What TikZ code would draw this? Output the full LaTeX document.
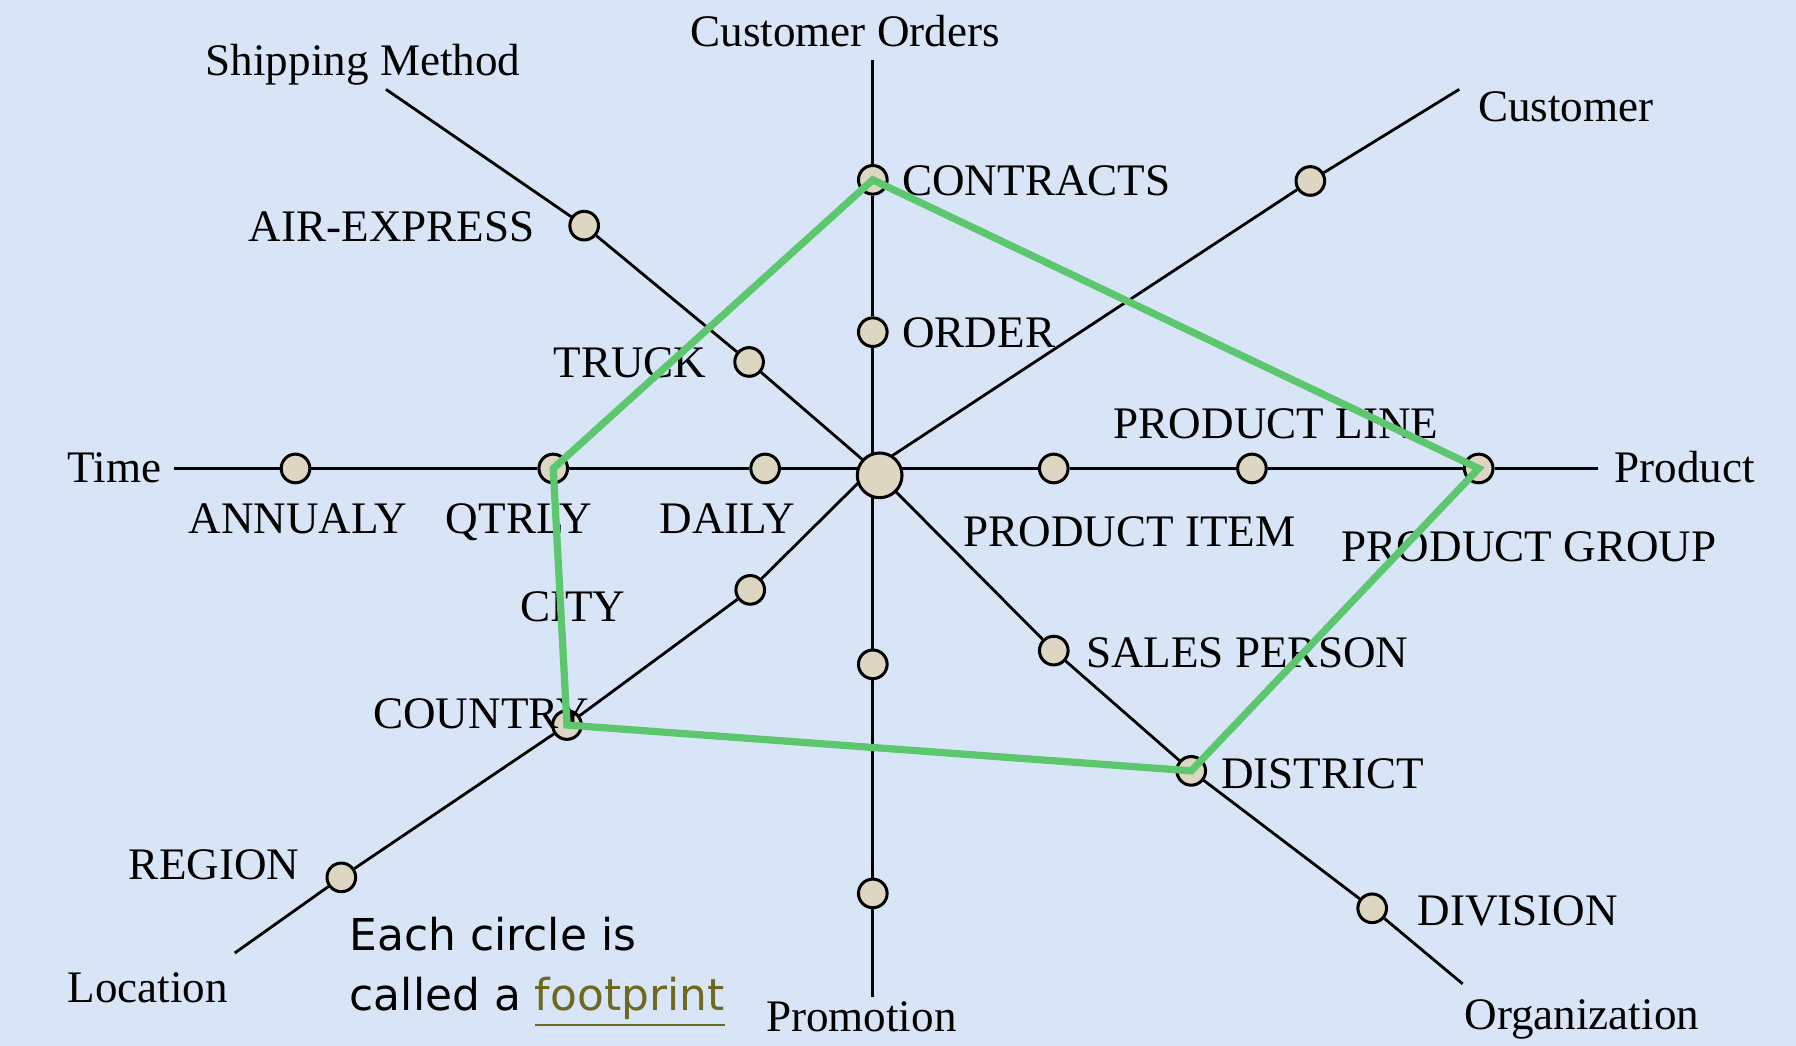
\documentclass[tikz,border=0pt]{standalone}
\usepackage{fontspec}
\setmainfont{Liberation Serif}
\newfontfamily\notefont{DejaVu Sans}
\usepackage[dvipsnames]{xcolor}
\usepackage{tikz}
\definecolor{bgblue}{RGB}{216,229,247}
\definecolor{dotfill}{RGB}{221,214,194}
\definecolor{slicegreen}{RGB}{92,199,110}
\definecolor{fpolive}{RGB}{110,104,32}
\tikzset{
	fpdot/.style={circle, draw=black, fill=dotfill, line width=0.75pt, minimum size=0.25cm, inner sep=0pt},
	hubdot/.style={fpdot, minimum size=0.39cm},
	spoke/.style={black, line width=0.7pt},
	lbl/.style={inner sep=0pt, anchor=base, font=\fontsize{11.2}{13}\selectfont},
	note/.style={inner sep=0pt, anchor=base west, font=\notefont\fontsize{10.9}{14.8}\selectfont},
}

\begin{document}
\begin{tikzpicture}[x=0.01cm, y=-0.01cm]
				% background
				\fill[bgblue] (0,0) rectangle (1568,913.2);
				\useasboundingbox (0,0) rectangle (1568,913.2);
				% footprints
				\node[fpdot] (annualy) at (258,409) {};
				\node[fpdot] (qtrly) at (483,409) {};
				\node[fpdot] (daily) at (668,409) {};
				\node[fpdot] (pitem) at (920,409) {};
				\node[fpdot] (pline) at (1093,409) {};
				\node[fpdot] (pgroup) at (1291,409) {};
				\node[fpdot] (contracts) at (762,157) {};
				\node[fpdot] (order) at (762,290) {};
				\node[fpdot] (promoA) at (762,580) {};
				\node[fpdot] (promoB) at (762,780) {};
				\node[fpdot] (airexp) at (510,197) {};
				\node[fpdot] (truck) at (654,316) {};
				\node[fpdot] (custA) at (1144,158) {};
				\node[fpdot] (city) at (655,515) {};
				\node[fpdot] (country) at (495,633) {};
				\node[fpdot] (region) at (298,766) {};
				\node[fpdot] (salesp) at (920,568) {};
				\node[fpdot] (district) at (1040,673) {};
				\node[fpdot] (division) at (1198,793) {};
				% free ends
				\coordinate (xing) at (762,409);
				\coordinate (timeend) at (152,409);
				\coordinate (prodend) at (1395,409);
				\coordinate (ordersend) at (762,52);
				\coordinate (promoend) at (762,870);
				\coordinate (shipend) at (337,78);
				\coordinate (custend) at (1274,78);
				\coordinate (locend) at (205,832);
				\coordinate (orgend) at (1277,859);
				% dimension axes
				\draw[spoke] (timeend) -- (annualy) -- (qtrly) -- (daily) -- (xing) -- (pitem) -- (pline) -- (pgroup) -- (prodend);
				\draw[spoke] (ordersend) -- (contracts) -- (order) -- (xing) -- (promoA) -- (promoB) -- (promoend);
				\draw[spoke] (shipend) -- (airexp) -- (truck) -- (xing);
				\draw[spoke] (custend) -- (custA) -- (xing);
				\draw[spoke] (locend) -- (region) -- (country) -- (city) -- (xing);
				\draw[spoke] (orgend) -- (division) -- (district) -- (salesp) -- (xing);
				\node[hubdot] (hub) at (768,415) {};
				% dimension names
				\node[lbl] (lorders) at (738,40.5) {Customer Orders};
				\node[lbl] (lship) at (317,66) {Shipping Method};
				\node[lbl] (lcust) at (1367,106) {Customer};
				\node[lbl] (ltime) at (100,421) {Time};
				\node[lbl] (lprod) at (1471,421) {Product};
				\node[lbl] (lloc) at (129,875) {Location};
				\node[lbl] (lpromo) at (752,900.5) {Promotion};
				\node[lbl] (lorg) at (1381,899) {Organization};
				% level labels
				\node[lbl, anchor=base west] (lcontracts) at (787,171) {CONTRACTS};
				\node[lbl, anchor=base west] (lorder) at (787,303.5) {ORDER};
				\node[lbl] (lair) at (342,211) {AIR-EXPRESS};
				\node[lbl] (ltruck) at (550,330) {TRUCK};
				\node[lbl] (lpline) at (1114,383) {PRODUCT LINE};
				\node[lbl] (lannualy) at (260,466) {ANNUALY};
				\node[lbl] (lqtrly) at (453,466) {QTRLY};
				\node[lbl] (ldaily) at (635,466) {DAILY};
				\node[lbl] (lpitem) at (986,477) {PRODUCT ITEM};
				\node[lbl] (lpgroup) at (1335,490.6) {PRODUCT GROUP};
				\node[lbl] (lcity) at (500,543) {CITY};
				\node[lbl] (lcountry) at (420,636) {COUNTRY};
				\node[lbl] (lregion) at (187,768) {REGION};
				\node[lbl, anchor=base west] (lsalesp) at (947.6,583) {SALES PERSON};
				\node[lbl, anchor=base west] (ldistrict) at (1065.4,688) {DISTRICT};
				\node[lbl, anchor=base west] (ldivision) at (1237,808.4) {DIVISION};
				% note
				\node[note] (noteA) at (304.7,829.7) {Each circle is};
				\node[note] (noteB) at (304.7,882) {called a \textcolor{fpolive}{\underline{footprint}}};
				% the slice
				\draw[slicegreen, line width=1.8pt] (contracts.center) -- (pgroup.center) -- (district.center) -- (country.center) -- (qtrly.center) -- cycle;
			\end{tikzpicture}
\end{document}
